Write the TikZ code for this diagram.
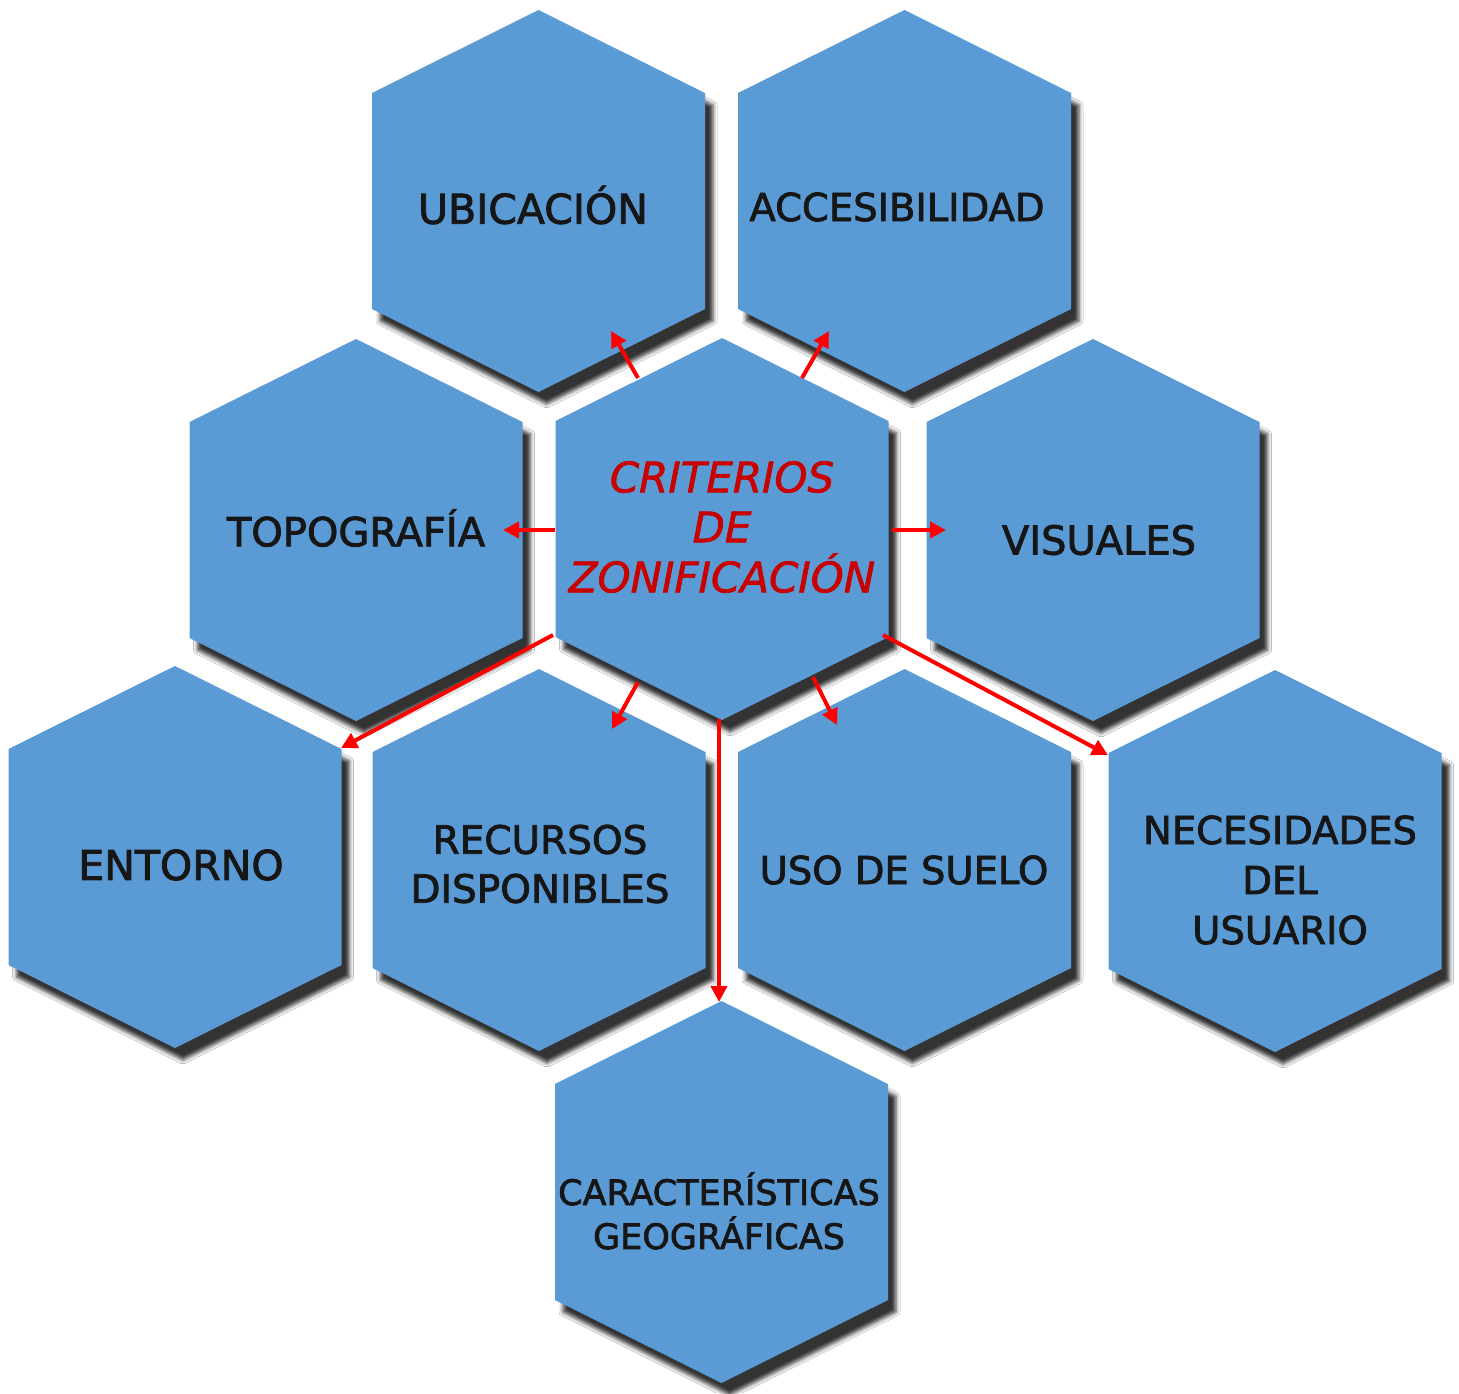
\documentclass[tikz,border=0pt]{standalone}
\usepackage{fontspec}
\setmainfont{DejaVu Sans}
\newfontfamily\hexfont{DejaVu Sans}[FakeBold=2]
\newfontfamily\critfont{DejaVu Sans Oblique}[FakeBold=1.5]
\usetikzlibrary{arrows.meta,shadows.blur}
\definecolor{hexblue}{RGB}{91,155,213}
\definecolor{txtdark}{RGB}{22,22,22}
\definecolor{critred}{RGB}{200,0,0}
\tikzset{
  hexfill/.style={fill=hexblue,
    blur shadow={shadow xshift=8pt, shadow yshift=-12pt, shadow blur radius=4pt, shadow opacity=80}},
  hexlabel/.style={text=txtdark, align=center, font=\hexfont\fontsize{40}{50}\selectfont, inner sep=0pt},
  critlabel/.style={text=critred, align=center, font=\critfont\fontsize{42}{50}\selectfont, inner sep=0pt},
  arr/.style={draw=red, line width=4pt, -{Triangle[length=16pt,width=16pt]}}
}
\newcommand{\hexat}[1]{\path[hexfill] (#1) ++(0,-191) -- ++(166.5,83) -- ++(0,216) -- ++(-166.5,83) -- ++(-166.5,-83) -- ++(0,-216) -- cycle;}
\begin{document}
\begin{tikzpicture}[x=1pt,y=-1pt]
\useasboundingbox[fill=white] (0,0) rectangle (1459,1393);
% hexagons
\hexat{538.5,201}
\hexat{904.5,201}
\hexat{356,530}
\hexat{722,529}
\hexat{1093,530}
\hexat{175,857}
\hexat{539,860}
\hexat{904.5,860}
\hexat{1275,861}
\hexat{721.5,1192}
% labels
\node[hexlabel, font=\hexfont\fontsize{41}{50}\selectfont] (ubi) at (533,205) {UBICACIÓN};
\node[hexlabel, font=\hexfont\fontsize{38.5}{50}\selectfont] (acc) at (897,207) {ACCESIBILIDAD};
\node[hexlabel] (topo) at (356,528) {TOPOGRAFÍA};
\node[critlabel] (crit) at (722,527) {CRITERIOS\\DE\\ZONIFICACIÓN};
\node[hexlabel] (vis) at (1099,540) {VISUALES};
\node[hexlabel, font=\hexfont\fontsize{41}{50}\selectfont] (ent) at (181,865) {ENTORNO};
\node[hexlabel, font=\hexfont\fontsize{39}{49}\selectfont] (rec) at (540,864) {RECURSOS\\DISPONIBLES};
\node[hexlabel, font=\hexfont\fontsize{38.5}{50}\selectfont] (uso) at (904,870) {USO DE SUELO};
\node[hexlabel, font=\hexfont\fontsize{38.5}{50}\selectfont] (nec) at (1280,880) {NECESIDADES\\DEL\\USUARIO};
\node[hexlabel, font=\hexfont\fontsize{35}{44}\selectfont] (car) at (719,1211) {CARACTERÍSTICAS\\GEOGRÁFICAS};
% arrow end points on the hexagon borders
\coordinate (s1) at (638,378);  \coordinate (e1) at (611,331);
\coordinate (s2) at (802,378);  \coordinate (e2) at (829,331);
\coordinate (s3) at (555,530);  \coordinate (e3) at (503,530);
\coordinate (s4) at (892,530);  \coordinate (e4) at (946,530);
\coordinate (s5) at (553,635);  \coordinate (e5) at (341,748);
\coordinate (s6) at (638,682);  \coordinate (e6) at (612,729);
\coordinate (s7) at (719,719);  \coordinate (e7) at (719,1002);
\coordinate (s8) at (813,677);  \coordinate (e8) at (837,725);
\coordinate (s9) at (883,635);  \coordinate (e9) at (1108,755);
\foreach \i in {1,...,9} {\draw[arr] (s\i) -- (e\i);}
\end{tikzpicture}
\end{document}
